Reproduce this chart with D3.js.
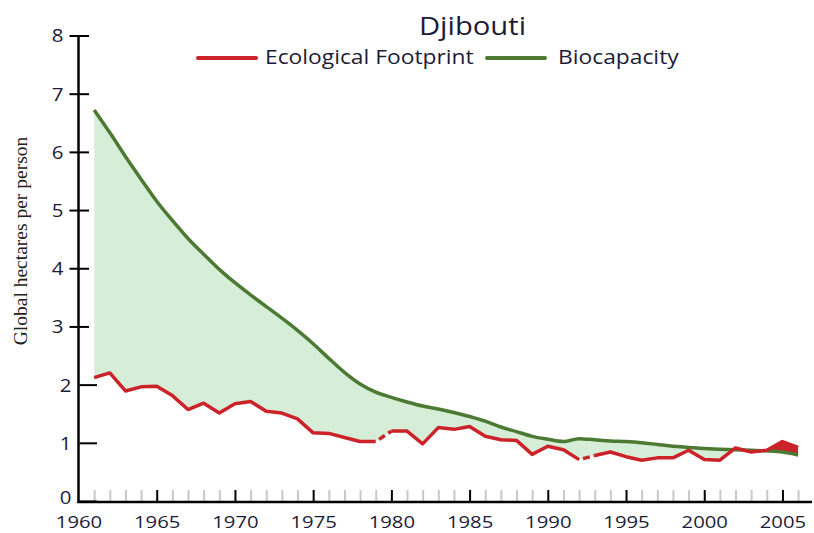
<!DOCTYPE html>
<html>
<head>
<meta charset="utf-8">
<script src="https://cdn.jsdelivr.net/npm/d3@7"></script>
<style>
  html, body { margin: 0; padding: 0; background: #fff; }
  svg { display: block; }
  .tick-label { font-family: "Open Sans", sans-serif; fill: #1c1c38; }
</style>
</head>
<body>
<svg id="chart" width="814" height="533"></svg>
<script>
// Djibouti: ecological footprint vs biocapacity, global hectares per person
const YEARS = d3.range(1961, 2007);

const FOOTPRINT = [
  2.13, 2.21, 1.90, 1.97, 1.98, 1.82, 1.58, 1.69, 1.52, 1.68,
  1.72, 1.55, 1.52, 1.42, 1.18, 1.17, 1.10, 1.03, 1.03, 1.21,
  1.21, 0.99, 1.27, 1.24, 1.29, 1.12, 1.06, 1.05, 0.81, 0.95,
  0.89, 0.72, 0.79, 0.85, 0.77, 0.71, 0.75, 0.75, 0.88, 0.72,
  0.71, 0.92, 0.85, 0.88, 1.03, 0.93,
];

const BIOCAPACITY = [
  6.73, 6.34, 5.93, 5.54, 5.16, 4.83, 4.52, 4.25, 3.99, 3.76,
  3.55, 3.35, 3.15, 2.94, 2.71, 2.46, 2.22, 2.02, 1.88, 1.79,
  1.71, 1.64, 1.59, 1.53, 1.46, 1.38, 1.28, 1.20, 1.12, 1.07,
  1.03, 1.08, 1.06, 1.04, 1.03, 1.01, 0.98, 0.95, 0.93, 0.91,
  0.90, 0.89, 0.88, 0.87, 0.85, 0.80,
];

// footprint segments drawn dashed (year -> next year)
const DASHED_AFTER = [1979, 1992];

const Y_TICKS = [0, 1, 2, 3, 4, 5, 6, 7, 8];
const X_LABELS = [1960, 1965, 1970, 1975, 1980, 1985, 1990, 1995, 2000, 2005];
const X_MAJOR = X_LABELS.filter((d) => d !== 1960);
const X_MINOR = YEARS.filter((d) => d % 5 !== 0);

const RED = "#cc2229";
const GREEN = "#4d7a33";
const FILL = "#d6edd7";
const INK = "#1c1c38";
const SX = 1.17; // horizontal stretch of the lettering

const svg = d3.select("#chart");
const x = d3.scaleLinear().domain([1960, 2006]).range([78.5, 798.1]);
const y = d3.scaleLinear().domain([0, 8]).range([501.5, 36]);
const axisY = 502;

const data = YEARS.map((yr, i) => ({ year: yr, ef: FOOTPRINT[i], bc: BIOCAPACITY[i] }));

function stretch(sel, sx) {
  sel.attr("transform", function () {
    const tx = +this.getAttribute("x") || 0;
    const ty = +this.getAttribute("y") || 0;
    return `translate(${tx},${ty}) scale(${sx},1) translate(${-tx},${-ty})`;
  });
}

// clip regions above / below the footprint line
const defs = svg.append("defs");
defs.append("clipPath").attr("id", "above-ef")
  .append("path")
  .attr("d", d3.area().x((d) => x(d.year)).y0(0).y1((d) => y(d.ef))(data));
defs.append("clipPath").attr("id", "below-ef")
  .append("path")
  .attr("d", d3.area().x((d) => x(d.year)).y0(533).y1((d) => y(d.ef))(data));

const bcCurve = d3.curveMonotoneX;

// reserve (green) and deficit (red) areas
svg.append("path")
  .attr("clip-path", "url(#above-ef)")
  .attr("fill", FILL)
  .attr("d", d3.area().curve(bcCurve).x((d) => x(d.year)).y0(axisY).y1((d) => y(d.bc))(data));
svg.append("path")
  .attr("clip-path", "url(#below-ef)")
  .attr("fill", RED)
  .attr("d", d3.area().curve(bcCurve).x((d) => x(d.year)).y0(0).y1((d) => y(d.bc))(data));

// x axis: minor ticks, major ticks, labels
const gx = svg.append("g").attr("transform", `translate(0,${axisY})`);
gx.append("g")
  .call(d3.axisBottom(x).tickValues(X_MINOR).tickSize(-12).tickFormat(""))
  .call((g) => g.select(".domain").remove())
  .call((g) => g.selectAll("line").attr("stroke", "#c8c8c8").attr("stroke-width", 2));
gx.append("g")
  .call(d3.axisBottom(x).tickValues(X_MAJOR).tickSize(-12).tickFormat(""))
  .call((g) => g.select(".domain").remove())
  .call((g) => g.selectAll("line").attr("stroke", "#000").attr("stroke-width", 2));
gx.append("g")
  .call(d3.axisBottom(x).tickValues(X_LABELS).tickSize(0).tickFormat(d3.format("d")))
  .call((g) => g.select(".domain").remove())
  .call((g) => g.selectAll("text")
    .attr("class", "tick-label")
    .attr("y", 26).attr("dy", null)
    .attr("font-size", 17)
    .call(stretch, SX * 1.02));
gx.append("line")
  .attr("x1", x(1960) - 1).attr("x2", 812)
  .attr("stroke", "#000").attr("stroke-width", 2.5);

// y axis
const gy = svg.append("g");
gy.append("line")
  .attr("x1", x(1960)).attr("x2", x(1960))
  .attr("y1", y(8) - 1).attr("y2", axisY + 1)
  .attr("stroke", "#000").attr("stroke-width", 2.5);
const yt = gy.selectAll("g.ytick").data(Y_TICKS).join("g").attr("class", "ytick");
yt.append("line")
  .attr("x1", (d) => (d >= 3 ? 69.5 : 79.5))
  .attr("x2", (d) => (d >= 3 ? 89 : 97))
  .attr("y1", (d) => y(d)).attr("y2", (d) => y(d))
  .attr("stroke", "#000").attr("stroke-width", 2);
yt.append("text")
  .attr("class", "tick-label")
  .attr("x", (d) => (d >= 3 ? 63.5 : 71.5))
  .attr("y", (d) => Math.min(y(d) + 6.5, 504.5))
  .attr("text-anchor", "end")
  .attr("font-size", 17.5)
  .text((d) => d)
  .call(stretch, SX);

svg.append("text")
  .attr("transform", "translate(27,241) rotate(-90)")
  .attr("text-anchor", "middle")
  .attr("font-family", "'Liberation Serif', 'Times New Roman', serif")
  .attr("font-size", 19.5)
  .attr("fill", "#222")
  .text("Global hectares per person");

// biocapacity line
svg.append("path")
  .attr("fill", "none")
  .attr("stroke", GREEN)
  .attr("stroke-width", 3.5)
  .attr("stroke-linejoin", "round")
  .attr("d", d3.line().curve(bcCurve).x((d) => x(d.year)).y((d) => y(d.bc))(data));

// footprint line: solid runs, dashed bridges
const solidRuns = [];
let run = [];
data.forEach((d) => {
  run.push(d);
  if (DASHED_AFTER.includes(d.year)) { solidRuns.push(run); run = []; }
});
solidRuns.push(run);
const bridges = DASHED_AFTER.map((yr) => data.filter((d) => d.year === yr || d.year === yr + 1));

const efLine = d3.line().x((d) => x(d.year)).y((d) => y(d.ef));
svg.append("g").selectAll("path.solid").data(solidRuns).join("path")
  .attr("class", "solid")
  .attr("fill", "none").attr("stroke", RED).attr("stroke-width", 3.5)
  .attr("stroke-linejoin", "round")
  .attr("d", efLine);
svg.append("g").selectAll("path.dash").data(bridges).join("path")
  .attr("class", "dash")
  .attr("fill", "none").attr("stroke", RED).attr("stroke-width", 3.5)
  .attr("stroke-dasharray", "7 4")
  .attr("stroke-dashoffset", -4)
  .attr("d", efLine);

// title and legend
svg.append("text")
  .attr("x", 472.5).attr("y", 35)
  .attr("text-anchor", "middle")
  .attr("font-family", "'Open Sans', sans-serif")
  .attr("font-size", 25)
  .attr("fill", INK)
  .text("Djibouti")
  .call(stretch, SX);

const LEGEND = [
  { label: "Ecological Footprint", color: RED, x0: 198, x1: 256, tx: 265 },
  { label: "Biocapacity", color: GREEN, x0: 487, x1: 545, tx: 558 },
];
const lg = svg.append("g").selectAll("g").data(LEGEND).join("g");
lg.append("line")
  .attr("x1", (d) => d.x0).attr("x2", (d) => d.x1)
  .attr("y1", 58).attr("y2", 58)
  .attr("stroke", (d) => d.color).attr("stroke-width", 4)
  .attr("stroke-linecap", "round");
lg.append("text")
  .attr("x", (d) => d.tx).attr("y", 64)
  .attr("font-family", "'Open Sans', sans-serif")
  .attr("font-size", 19.5)
  .attr("fill", INK)
  .text((d) => d.label)
  .call(stretch, SX);
</script>
</body>
</html>
